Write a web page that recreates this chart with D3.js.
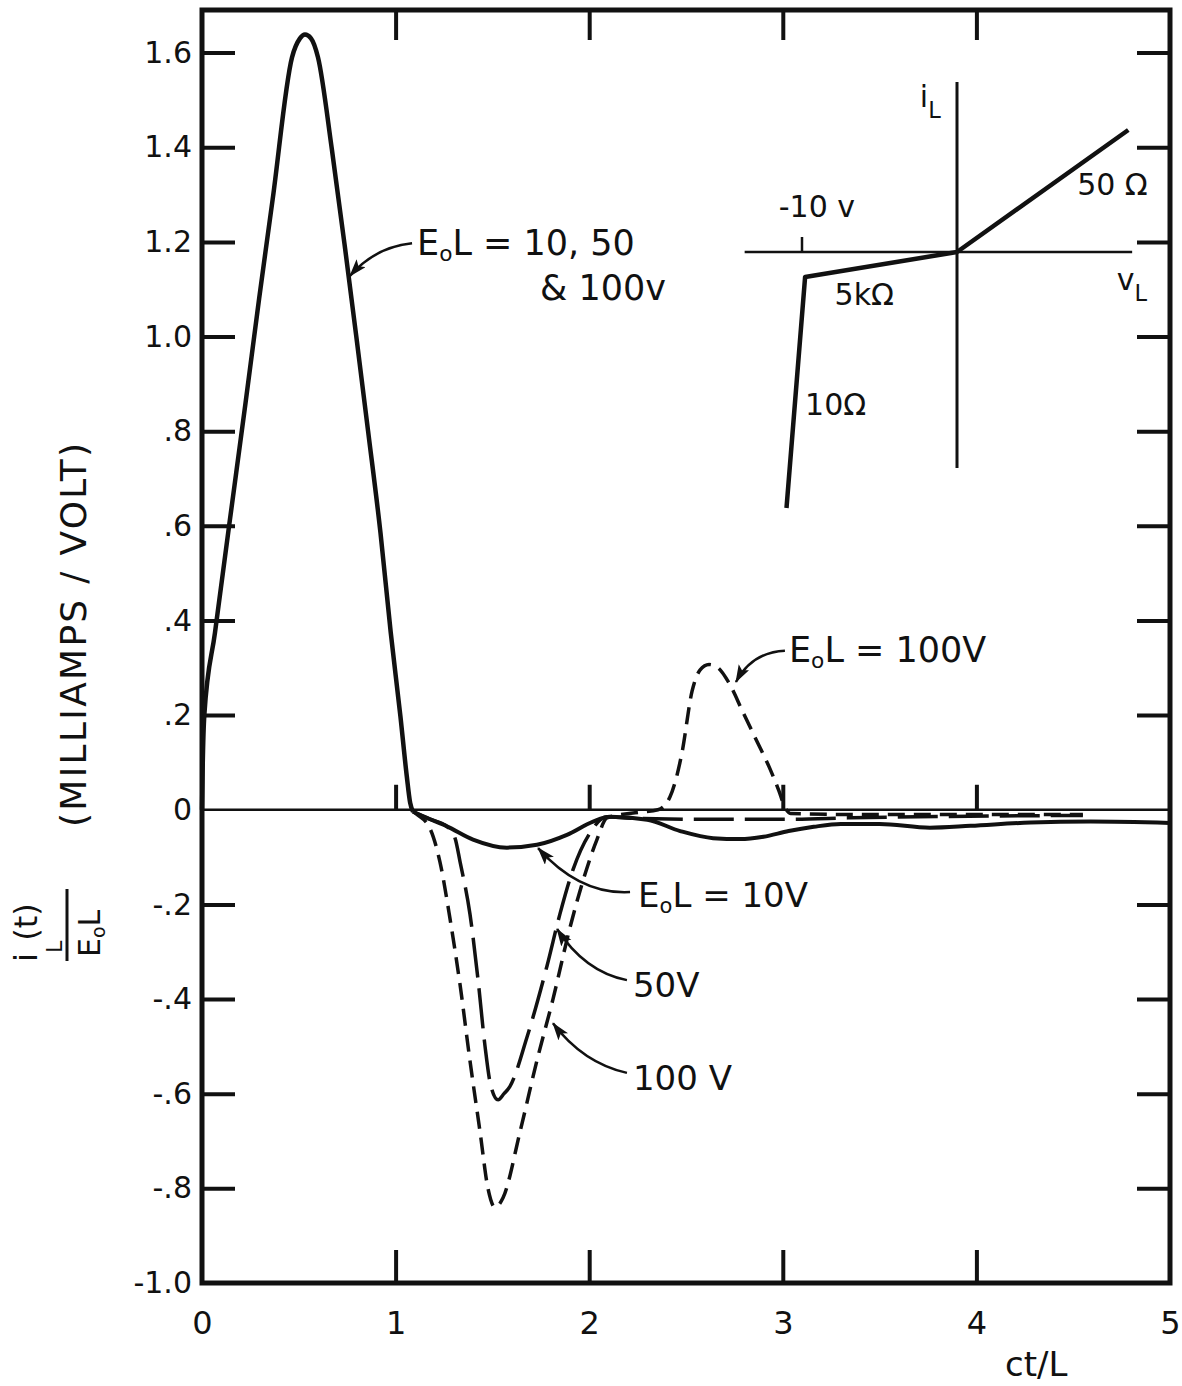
<!DOCTYPE html>
<html>
<head>
<meta charset="utf-8">
<script src="https://cdn.jsdelivr.net/npm/d3@7"></script>
<style>
body { margin: 0; background: #fff; }
text { font-family: "DejaVu Sans", sans-serif; fill: #111; }
.tick line { stroke: #111; stroke-width: 4; }
.tick text { font-size: 30px; }
</style>
</head>
<body>
<svg id="chart" width="1182" height="1386"></svg>
<script>
// common pulse, same for E0L = 10, 50 & 100 v  (t = ct/L, v = iL/E0L in mA/V)
var peakT = [0, 0.004, 0.012, 0.067, 0.14, 0.225, 0.295, 0.365, 0.465, 0.506, 0.532, 0.563, 0.599, 0.671, 0.741, 0.797, 0.858, 0.922, 0.975, 1.025, 1.058, 1.075, 1.09];
var peakV = [0, 0.1, 0.2, 0.374, 0.60, 0.86, 1.08, 1.29, 1.59, 1.63, 1.638, 1.63, 1.59, 1.395, 1.18, 1.0, 0.80, 0.585, 0.374, 0.197, 0.07, 0.015, -0.004];

// E0L = 10 V (solid)
var t10 = [1.09, 1.178, 1.265, 1.40, 1.575, 1.73, 1.885, 2.02, 2.107, 2.30, 2.47, 2.64, 2.78, 2.90, 3.03, 3.16, 3.30, 3.50, 3.76, 3.97, 4.28, 4.59, 5.0];
var v10 = [-0.004, -0.02, -0.035, -0.063, -0.08, -0.074, -0.053, -0.025, -0.015, -0.021, -0.045, -0.06, -0.062, -0.057, -0.045, -0.036, -0.03, -0.03, -0.038, -0.034, -0.027, -0.025, -0.028];

// E0L = 50 V (long dash)
var t50 = [1.09, 1.178, 1.265, 1.307, 1.333, 1.384, 1.426, 1.462, 1.49, 1.529, 1.56, 1.59, 1.679, 1.782, 1.849, 1.916, 2.004, 2.092, 2.21, 2.57, 3.04, 3.35, 3.86, 4.55];
var v50 = [-0.004, -0.02, -0.035, -0.06, -0.11, -0.22, -0.36, -0.50, -0.58, -0.613, -0.60, -0.585, -0.48, -0.33, -0.22, -0.127, -0.049, -0.015, -0.018, -0.02, -0.02, -0.017, -0.014, -0.012];

// E0L = 100 V (short dash)
var t100 = [1.09, 1.11, 1.178, 1.229, 1.281, 1.333, 1.384, 1.436, 1.477, 1.513, 1.555, 1.643, 1.73, 1.813, 1.90, 1.968, 2.04, 2.092, 2.262, 2.355, 2.417, 2.479, 2.531, 2.572, 2.619, 2.665, 2.722, 2.79, 2.86, 2.93, 2.98, 3.01, 3.04, 3.35, 3.86, 4.55];
var v100 = [-0.004, -0.01, -0.04, -0.11, -0.23, -0.37, -0.53, -0.68, -0.80, -0.84, -0.82, -0.68, -0.53, -0.40, -0.25, -0.15, -0.063, -0.017, -0.005, 0, 0.027, 0.12, 0.25, 0.295, 0.307, 0.30, 0.268, 0.21, 0.15, 0.09, 0.04, 0.006, -0.008, -0.01, -0.01, -0.01];

var xTicks = [0, 1, 2, 3, 4, 5];
var yTicks = [-1.0, -0.8, -0.6, -0.4, -0.2, 0, 0.2, 0.4, 0.6, 0.8, 1.0, 1.2, 1.4, 1.6];
var yTickLabels = ["-1.0", "-.8", "-.6", "-.4", "-.2", "0", ".2", ".4", ".6", ".8", "1.0", "1.2", "1.4", "1.6"];

// inset: diode-like load characteristic, i_L vs v_L
var insetV = [-11.0, -9.8, 0, 11.05];
var insetI = [-2.56, -0.25, 0, 1.22];

var svg = d3.select("#chart");

var x = d3.scaleLinear().domain([0, 5]).range([202, 1170]);
var y = d3.scaleLinear().domain([-1.0, 1.69]).range([1283, 10]);

var innerTicks = yTicks.filter(function(d) { return d != 0 && d != -1.0; });
var midTicks = [1, 2, 3, 4];

// inward ticks on all four sides
svg.append("g").attr("transform", "translate(" + x(0) + ",0)")
  .call(d3.axisRight(y).tickValues(innerTicks).tickSize(33).tickFormat(""));
svg.append("g").attr("transform", "translate(" + x(5) + ",0)")
  .call(d3.axisLeft(y).tickValues(innerTicks).tickSize(33).tickFormat(""));
svg.append("g").attr("transform", "translate(0," + y(1.69) + ")")
  .call(d3.axisBottom(x).tickValues(midTicks).tickSize(30).tickFormat(""));
svg.append("g").attr("transform", "translate(0," + y(-1.0) + ")")
  .call(d3.axisTop(x).tickValues(midTicks).tickSize(33).tickFormat(""));
svg.selectAll(".domain").remove();

// tick labels
var yl = svg.append("g").attr("transform", "translate(" + (x(0) - 10) + ",0)")
  .call(d3.axisLeft(y).tickValues(yTicks).tickSize(0).tickPadding(0)
    .tickFormat(function(d, i) { return yTickLabels[i]; }));
var xl = svg.append("g").attr("transform", "translate(0," + (y(-1.0) + 20) + ")")
  .call(d3.axisBottom(x).tickValues(xTicks).tickSize(0).tickPadding(8)
    .tickFormat(d3.format("d")));
svg.selectAll(".domain").remove();
xl.selectAll("text").style("font-size", "32px");

// zero line with small ticks
svg.append("line")
  .attr("x1", x(0)).attr("x2", x(5)).attr("y1", y(0)).attr("y2", y(0))
  .attr("stroke", "#111").attr("stroke-width", 2.5);
svg.append("g").attr("transform", "translate(0," + y(0) + ")")
  .call(d3.axisTop(x).tickValues(midTicks).tickSize(25).tickFormat(""))
  .call(function(g) { g.select(".domain").remove(); g.selectAll("line").attr("stroke-width", 2.5); });

// frame
svg.append("rect")
  .attr("x", x(0)).attr("y", y(1.69))
  .attr("width", x(5) - x(0)).attr("height", y(-1.0) - y(1.69))
  .attr("fill", "none").attr("stroke", "#111").attr("stroke-width", 5);

// curves
var line = d3.line()
  .x(function(d) { return x(d[0]); })
  .y(function(d) { return y(d[1]); })
  .curve(d3.curveMonotoneX);

function pairs(ts, vs) { return ts.map(function(t, i) { return [t, vs[i]]; }); }

svg.append("path").datum(pairs(peakT, peakV))
  .attr("d", line).attr("fill", "none").attr("stroke", "#111")
  .attr("stroke-width", 4.5).attr("stroke-linejoin", "round");
svg.append("path").datum(pairs(t10, v10))
  .attr("d", line).attr("fill", "none").attr("stroke", "#111")
  .attr("stroke-width", 4);
svg.append("path").datum(pairs(t50, v50))
  .attr("d", line).attr("fill", "none").attr("stroke", "#111")
  .attr("stroke-width", 3.5).attr("stroke-dasharray", "40,11");
svg.append("path").datum(pairs(t100, v100))
  .attr("d", line).attr("fill", "none").attr("stroke", "#111")
  .attr("stroke-width", 3.5).attr("stroke-dasharray", "17,9");

// arrowhead
svg.append("defs").append("marker")
  .attr("id", "arr").attr("markerUnits", "userSpaceOnUse")
  .attr("markerWidth", 20).attr("markerHeight", 14)
  .attr("refX", 17).attr("refY", 6).attr("orient", "auto")
  .append("path").attr("d", "M0,0 L18,6 L0,12 L4,6 Z").attr("fill", "#111");

// label helper: "E" sub-o "L ..." style text
function eolText(g, px, py, rest, size) {
  var t = g.append("text").attr("x", px).attr("y", py).style("font-size", size + "px");
  t.append("tspan").text("E");
  t.append("tspan").text("o").style("font-size", (size * 0.62) + "px").attr("dy", 6);
  t.append("tspan").text(rest).attr("dy", -6);
  return t;
}

function arrow(s, c, e) {
  svg.append("path")
    .attr("d", "M" + x(s[0]) + "," + y(s[1]) + " Q" + x(c[0]) + "," + y(c[1]) + " " + x(e[0]) + "," + y(e[1]))
    .attr("fill", "none").attr("stroke", "#111").attr("stroke-width", 2.5)
    .attr("marker-end", "url(#arr)");
}

var ann = svg.append("g");
eolText(ann, x(1.111), y(1.172), "L = 10, 50", 35);
ann.append("text").attr("x", x(1.746)).attr("y", y(1.077)).style("font-size", "35px").text("& 100v");
arrow([1.085, 1.197], [0.894, 1.189], [0.764, 1.128]);

eolText(ann, x(3.032), y(0.312), "L = 100V", 35);
arrow([3.011, 0.336], [2.841, 0.333], [2.758, 0.270]);

eolText(ann, x(2.252), y(-0.205), "L = 10V", 34);
arrow([2.211, -0.174], [1.952, -0.180], [1.736, -0.081]);

ann.append("text").attr("x", x(2.226)).attr("y", y(-0.396)).style("font-size", "34px").text("50V");
arrow([2.195, -0.360], [1.978, -0.343], [1.834, -0.252]);

ann.append("text").attr("x", x(2.226)).attr("y", y(-0.592)).style("font-size", "34px").text("100 V");
arrow([2.195, -0.556], [1.968, -0.535], [1.813, -0.451]);

// inset characteristic
var iv = d3.scaleLinear().domain([-10, 0]).range([802, 957]);
var ii = d3.scaleLinear().domain([0, 1]).range([252, 152]);
var inset = svg.append("g");
inset.append("line").attr("x1", iv(-13.7)).attr("x2", iv(11.3)).attr("y1", ii(0)).attr("y2", ii(0))
  .attr("stroke", "#111").attr("stroke-width", 2.5);
inset.append("line").attr("x1", iv(0)).attr("x2", iv(0)).attr("y1", ii(1.7)).attr("y2", ii(-2.16))
  .attr("stroke", "#111").attr("stroke-width", 3);
inset.append("line").attr("x1", iv(-10)).attr("x2", iv(-10)).attr("y1", ii(0)).attr("y2", ii(0.15))
  .attr("stroke", "#111").attr("stroke-width", 2.5);
inset.append("path").datum(pairs(insetV, insetI))
  .attr("d", d3.line().x(function(d) { return iv(d[0]); }).y(function(d) { return ii(d[1]); }))
  .attr("fill", "none").attr("stroke", "#111").attr("stroke-width", 4.5).attr("stroke-linejoin", "round");

function subText(px, py, main, sub, size) {
  var t = inset.append("text").attr("x", px).attr("y", py).style("font-size", size + "px");
  t.append("tspan").text(main);
  t.append("tspan").text(sub).style("font-size", (size * 0.75) + "px").attr("dy", 11);
}
subText(iv(-2.4), ii(1.45), "i", "L", 30);
subText(iv(10.3), ii(-0.38), "v", "L", 30);
inset.append("text").attr("x", iv(-11.5)).attr("y", ii(0.35)).style("font-size", "30px").text("-10 v");
inset.append("text").attr("x", iv(7.75)).attr("y", ii(0.57)).style("font-size", "30px").text("50 Ω");
inset.append("text").attr("x", iv(-7.9)).attr("y", ii(-0.53)).style("font-size", "30px").text("5kΩ");
inset.append("text").attr("x", iv(-9.8)).attr("y", ii(-1.63)).style("font-size", "30px").text("10Ω");

// axis titles
svg.append("text").attr("transform", "translate(86,635) rotate(-90)")
  .attr("text-anchor", "middle").style("font-size", "36px")
  .attr("textLength", 384).attr("lengthAdjust", "spacing")
  .text("(MILLIAMPS / VOLT)");

var frac = svg.append("g").attr("transform", "translate(67,925) rotate(-90)");
var num = frac.append("text").attr("x", -37).attr("y", -30).style("font-size", "32px");
num.append("tspan").text("i");
num.append("tspan").text("L").style("font-size", "22px").attr("dy", 25);
num.append("tspan").text("(t)").attr("dy", -25);
frac.append("line").attr("x1", -36).attr("x2", 36).attr("y1", 0).attr("y2", 0)
  .attr("stroke", "#111").attr("stroke-width", 3);
var den = frac.append("text").attr("x", -32).attr("y", 33).style("font-size", "30px");
den.append("tspan").text("E");
den.append("tspan").text("o").style("font-size", "19px").attr("dy", 5);
den.append("tspan").text("L").attr("dy", -5);

svg.append("text").attr("x", 1005).attr("y", 1376).style("font-size", "34px").text("ct/L");
</script>
</body>
</html>
